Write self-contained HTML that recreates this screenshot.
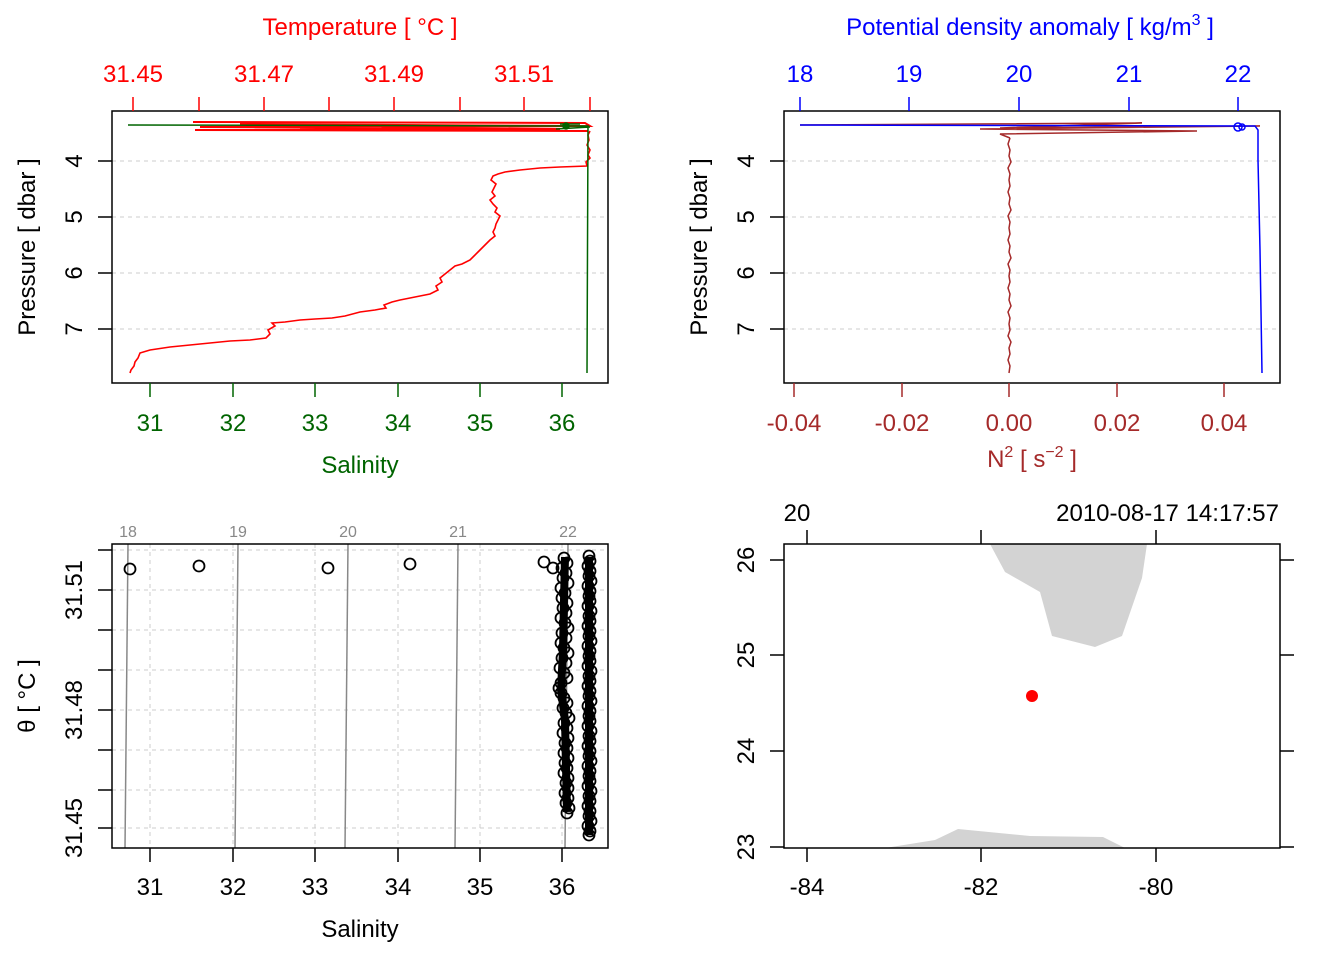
<!DOCTYPE html>
<html><head><meta charset="utf-8"><style>
html,body{margin:0;padding:0;background:#fff}
svg{display:block}
text{font-family:"Liberation Sans",sans-serif}
</style></head><body>
<svg width="1344" height="960" viewBox="0 0 1344 960" xmlns="http://www.w3.org/2000/svg">
<rect width="1344" height="960" fill="#fff"/>
<g stroke="#ccc" stroke-dasharray="4,4" stroke-width="1">
<line x1="112" y1="161" x2="608" y2="161"/><line x1="112" y1="217" x2="608" y2="217"/><line x1="112" y1="273" x2="608" y2="273"/><line x1="112" y1="329" x2="608" y2="329"/>
<line x1="784" y1="161" x2="1280" y2="161"/><line x1="784" y1="217" x2="1280" y2="217"/><line x1="784" y1="273" x2="1280" y2="273"/><line x1="784" y1="329" x2="1280" y2="329"/>
</g>
<g fill="none" stroke="#f00" stroke-width="2">
<path d="M193,122 L585,123 L590,126 L200,127 L560,129 L195,130 L588,131 M240,124 L580,126 L300,128 L540,130"/>
<path stroke-width="1.6" d="M590,131 L588,135 L589,140 L587,145 L590,150 L588,155 L590,158 L586,162 L587,166 L560,167 L540,168 L520,170 L505,172 L498,174 L493,176 L491,180 L496,184 L494,188 L492,192 L495,196 L490,200 L493,204 L497,208 L495,212 L500,216 L498,220 L496,224 L495,228 L493,232 L495,236 L490,240 L486,244 L482,248 L478,252 L474,256 L470,260 L462,264 L455,266 L450,270 L445,274 L440,278 L442,282 L436,286 L438,290 L430,294 L420,296 L410,298 L400,300 L392,302 L384,305 L386,308 L375,310 L360,312 L345,316 L332,318 L315,319 L300,320 L285,322 L272,323 L275,326 L268,330 L270,334 L266,338 L250,340 L230,341 L210,343 L190,345 L170,347 L150,350 L140,353 L138,358 L135,362 L134,366 L131,370 L130,373"/>
</g>
<g fill="none" stroke="#006400" stroke-width="1.5">
<path d="M128,125 L588,126 L587,373 M560,124 L580,124 M556,129 L590,127"/>
<circle cx="566" cy="126" r="3" fill="#006400"/>
</g>
<rect x="112" y="111" width="496" height="272" fill="none" stroke="#000" stroke-width="1.5"/>
<g stroke="#f00" stroke-width="1.5">
<line x1="133" y1="111" x2="133" y2="97"/><line x1="199" y1="111" x2="199" y2="97"/><line x1="264" y1="111" x2="264" y2="97"/><line x1="329" y1="111" x2="329" y2="97"/><line x1="394" y1="111" x2="394" y2="97"/><line x1="460" y1="111" x2="460" y2="97"/><line x1="524" y1="111" x2="524" y2="97"/><line x1="590" y1="111" x2="590" y2="97"/>
</g>
<g fill="#f00" font-size="24" text-anchor="middle">
<text x="133" y="82">31.45</text><text x="264" y="82">31.47</text><text x="394" y="82">31.49</text><text x="524" y="82">31.51</text>
<text x="360" y="35">Temperature [ °C ]</text>
</g>
<g stroke="#006400" stroke-width="1.5">
<line x1="150" y1="383" x2="150" y2="397"/><line x1="233" y1="383" x2="233" y2="397"/><line x1="315" y1="383" x2="315" y2="397"/><line x1="398" y1="383" x2="398" y2="397"/><line x1="480" y1="383" x2="480" y2="397"/><line x1="562" y1="383" x2="562" y2="397"/>
</g>
<g fill="#006400" font-size="24" text-anchor="middle">
<text x="150" y="431">31</text><text x="233" y="431">32</text><text x="315" y="431">33</text><text x="398" y="431">34</text><text x="480" y="431">35</text><text x="562" y="431">36</text>
<text x="360" y="473">Salinity</text>
</g>
<g stroke="#000" stroke-width="1.5">
<line x1="112" y1="161" x2="98" y2="161"/><line x1="112" y1="217" x2="98" y2="217"/><line x1="112" y1="273" x2="98" y2="273"/><line x1="112" y1="329" x2="98" y2="329"/>
<line x1="784" y1="161" x2="770" y2="161"/><line x1="784" y1="217" x2="770" y2="217"/><line x1="784" y1="273" x2="770" y2="273"/><line x1="784" y1="329" x2="770" y2="329"/>
</g>
<g font-size="24" text-anchor="middle">
<text transform="translate(82,161) rotate(-90)">4</text><text transform="translate(82,217) rotate(-90)">5</text><text transform="translate(82,273) rotate(-90)">6</text><text transform="translate(82,329) rotate(-90)">7</text>
<text transform="translate(35,247) rotate(-90)">Pressure [ dbar ]</text>
<text transform="translate(754,161) rotate(-90)">4</text><text transform="translate(754,217) rotate(-90)">5</text><text transform="translate(754,273) rotate(-90)">6</text><text transform="translate(754,329) rotate(-90)">7</text>
<text transform="translate(707,247) rotate(-90)">Pressure [ dbar ]</text>
</g>
<g fill="none" stroke="#a52a2a" stroke-width="1.5">
<path d="M800,125 L1142,123 L1000,128 L1260,126 L980,129 L1197,131 L1000,134 L1010,138"/>
<path d="M1010,138 L1008,144 L1010,150 L1009,156 L1011,162 L1008,168 L1010,174 L1009,180 L1010,186 L1008,192 L1010,198 L1009,204 L1011,210 L1008,216 L1010,222 L1009,228 L1010,234 L1008,240 L1010,246 L1009,252 L1011,258 L1008,264 L1010,270 L1009,276 L1010,282 L1008,288 L1010,294 L1009,300 L1011,306 L1008,312 L1010,318 L1009,324 L1010,330 L1008,336 L1011,342 L1009,348 L1010,354 L1008,360 L1010,366 L1009,373"/>
</g>
<g fill="none" stroke="#00f" stroke-width="1.5">
<path d="M800,125 L1255,126 L1258,130 L1258,160 L1260,250 L1262,373"/>
<circle cx="1238" cy="127" r="4"/><circle cx="1242" cy="127" r="3"/>
</g>
<rect x="784" y="111" width="496" height="272" fill="none" stroke="#000" stroke-width="1.5"/>
<g stroke="#00f" stroke-width="1.5">
<line x1="800" y1="111" x2="800" y2="97"/><line x1="909" y1="111" x2="909" y2="97"/><line x1="1019" y1="111" x2="1019" y2="97"/><line x1="1129" y1="111" x2="1129" y2="97"/><line x1="1238" y1="111" x2="1238" y2="97"/>
</g>
<g fill="#00f" font-size="24" text-anchor="middle">
<text x="800" y="82">18</text><text x="909" y="82">19</text><text x="1019" y="82">20</text><text x="1129" y="82">21</text><text x="1238" y="82">22</text>
<text x="1030" y="35">Potential density anomaly [ kg/m<tspan font-size="16" dy="-10">3</tspan><tspan dy="10"> ]</tspan></text>
</g>
<g stroke="#a52a2a" stroke-width="1.5">
<line x1="794" y1="383" x2="794" y2="397"/><line x1="902" y1="383" x2="902" y2="397"/><line x1="1009" y1="383" x2="1009" y2="397"/><line x1="1117" y1="383" x2="1117" y2="397"/><line x1="1224" y1="383" x2="1224" y2="397"/>
</g>
<g fill="#a52a2a" font-size="24" text-anchor="middle">
<text x="794" y="431">-0.04</text><text x="902" y="431">-0.02</text><text x="1009" y="431">0.00</text><text x="1117" y="431">0.02</text><text x="1224" y="431">0.04</text>
<text x="1032" y="467">N<tspan font-size="16" dy="-10">2</tspan><tspan dy="10"> [ s</tspan><tspan font-size="16" dy="-10">−2</tspan><tspan dy="10"> ]</tspan></text>
</g>
<g stroke="#ccc" stroke-dasharray="4,4" stroke-width="1">
<line x1="112" y1="550" x2="608" y2="550"/><line x1="112" y1="590" x2="608" y2="590"/><line x1="112" y1="630" x2="608" y2="630"/><line x1="112" y1="670" x2="608" y2="670"/><line x1="112" y1="710" x2="608" y2="710"/><line x1="112" y1="750" x2="608" y2="750"/><line x1="112" y1="790" x2="608" y2="790"/><line x1="112" y1="828" x2="608" y2="828"/>
<line x1="150" y1="544" x2="150" y2="848"/><line x1="233" y1="544" x2="233" y2="848"/><line x1="315" y1="544" x2="315" y2="848"/><line x1="398" y1="544" x2="398" y2="848"/><line x1="480" y1="544" x2="480" y2="848"/><line x1="562" y1="544" x2="562" y2="848"/>
</g>
<g stroke="#888" stroke-width="1.5">
<line x1="128" y1="544" x2="125" y2="848"/><line x1="238" y1="544" x2="235" y2="848"/><line x1="348" y1="544" x2="345" y2="848"/><line x1="458" y1="544" x2="455" y2="848"/><line x1="568" y1="544" x2="565" y2="848"/>
</g>
<g fill="#888" font-size="16" text-anchor="middle">
<text x="128" y="537">18</text><text x="238" y="537">19</text><text x="348" y="537">20</text><text x="458" y="537">21</text><text x="568" y="537">22</text>
</g>
<g fill="none" stroke="#000" stroke-width="8">
<path d="M565,557 L564,600 L563,650 L561,690 L565,720 L567,812"/>
<path d="M589,557 L589,835"/>
</g>
<g fill="none" stroke="#000" stroke-width="1.8">
<circle cx="130" cy="569" r="5.5"/><circle cx="199" cy="566" r="5.5"/><circle cx="328" cy="568" r="5.5"/><circle cx="410" cy="564" r="5.5"/><circle cx="544" cy="562" r="5.5"/><circle cx="553" cy="568" r="5.5"/>
<circle cx="564" cy="558" r="5.5"/><circle cx="567" cy="563" r="5.5"/><circle cx="562" cy="568" r="5.5"/><circle cx="566" cy="573" r="5.5"/><circle cx="563" cy="578" r="5.5"/><circle cx="568" cy="583" r="5.5"/><circle cx="561" cy="588" r="5.5"/><circle cx="565" cy="593" r="5.5"/><circle cx="562" cy="598" r="5.5"/><circle cx="567" cy="603" r="5.5"/><circle cx="563" cy="608" r="5.5"/><circle cx="566" cy="613" r="5.5"/><circle cx="561" cy="618" r="5.5"/><circle cx="565" cy="623" r="5.5"/><circle cx="568" cy="628" r="5.5"/><circle cx="562" cy="633" r="5.5"/><circle cx="566" cy="638" r="5.5"/><circle cx="561" cy="643" r="5.5"/><circle cx="564" cy="648" r="5.5"/><circle cx="568" cy="653" r="5.5"/><circle cx="562" cy="658" r="5.5"/><circle cx="566" cy="663" r="5.5"/><circle cx="560" cy="668" r="5.5"/><circle cx="564" cy="673" r="5.5"/><circle cx="567" cy="678" r="5.5"/><circle cx="561" cy="683" r="5.5"/><circle cx="559" cy="688" r="5.5"/><circle cx="561" cy="693" r="5.5"/><circle cx="564" cy="698" r="5.5"/><circle cx="567" cy="703" r="5.5"/><circle cx="563" cy="708" r="5.5"/><circle cx="566" cy="713" r="5.5"/><circle cx="569" cy="718" r="5.5"/><circle cx="564" cy="723" r="5.5"/><circle cx="567" cy="728" r="5.5"/><circle cx="563" cy="733" r="5.5"/><circle cx="568" cy="738" r="5.5"/><circle cx="565" cy="743" r="5.5"/><circle cx="567" cy="748" r="5.5"/><circle cx="564" cy="753" r="5.5"/><circle cx="568" cy="758" r="5.5"/><circle cx="565" cy="763" r="5.5"/><circle cx="567" cy="768" r="5.5"/><circle cx="564" cy="773" r="5.5"/><circle cx="568" cy="778" r="5.5"/><circle cx="566" cy="783" r="5.5"/><circle cx="568" cy="788" r="5.5"/><circle cx="565" cy="793" r="5.5"/><circle cx="568" cy="798" r="5.5"/><circle cx="566" cy="803" r="5.5"/><circle cx="569" cy="808" r="5.5"/><circle cx="567" cy="813" r="5.5"/>
<circle cx="589" cy="556" r="5.5"/><circle cx="590" cy="561" r="5.5"/><circle cx="588" cy="566" r="5.5"/><circle cx="590" cy="571" r="5.5"/><circle cx="589" cy="576" r="5.5"/><circle cx="591" cy="581" r="5.5"/><circle cx="588" cy="586" r="5.5"/><circle cx="590" cy="591" r="5.5"/><circle cx="589" cy="596" r="5.5"/><circle cx="590" cy="601" r="5.5"/><circle cx="588" cy="606" r="5.5"/><circle cx="591" cy="611" r="5.5"/><circle cx="589" cy="616" r="5.5"/><circle cx="590" cy="621" r="5.5"/><circle cx="588" cy="626" r="5.5"/><circle cx="590" cy="631" r="5.5"/><circle cx="589" cy="636" r="5.5"/><circle cx="591" cy="641" r="5.5"/><circle cx="588" cy="646" r="5.5"/><circle cx="590" cy="651" r="5.5"/><circle cx="589" cy="656" r="5.5"/><circle cx="590" cy="661" r="5.5"/><circle cx="588" cy="666" r="5.5"/><circle cx="591" cy="671" r="5.5"/><circle cx="589" cy="676" r="5.5"/><circle cx="590" cy="681" r="5.5"/><circle cx="588" cy="686" r="5.5"/><circle cx="590" cy="691" r="5.5"/><circle cx="589" cy="696" r="5.5"/><circle cx="591" cy="701" r="5.5"/><circle cx="588" cy="706" r="5.5"/><circle cx="590" cy="711" r="5.5"/><circle cx="589" cy="716" r="5.5"/><circle cx="590" cy="721" r="5.5"/><circle cx="588" cy="726" r="5.5"/><circle cx="591" cy="731" r="5.5"/><circle cx="589" cy="736" r="5.5"/><circle cx="590" cy="741" r="5.5"/><circle cx="588" cy="746" r="5.5"/><circle cx="590" cy="751" r="5.5"/><circle cx="589" cy="756" r="5.5"/><circle cx="591" cy="761" r="5.5"/><circle cx="588" cy="766" r="5.5"/><circle cx="590" cy="771" r="5.5"/><circle cx="589" cy="776" r="5.5"/><circle cx="590" cy="781" r="5.5"/><circle cx="588" cy="786" r="5.5"/><circle cx="591" cy="791" r="5.5"/><circle cx="589" cy="796" r="5.5"/><circle cx="590" cy="801" r="5.5"/><circle cx="588" cy="806" r="5.5"/><circle cx="590" cy="811" r="5.5"/><circle cx="589" cy="816" r="5.5"/><circle cx="591" cy="821" r="5.5"/><circle cx="588" cy="826" r="5.5"/><circle cx="590" cy="831" r="5.5"/><circle cx="589" cy="835" r="5.5"/>
</g>
<rect x="112" y="544" width="496" height="304" fill="none" stroke="#000" stroke-width="1.5"/>
<g stroke="#000" stroke-width="1.5">
<line x1="150" y1="848" x2="150" y2="862"/><line x1="233" y1="848" x2="233" y2="862"/><line x1="315" y1="848" x2="315" y2="862"/><line x1="398" y1="848" x2="398" y2="862"/><line x1="480" y1="848" x2="480" y2="862"/><line x1="562" y1="848" x2="562" y2="862"/>
<line x1="112" y1="550" x2="98" y2="550"/><line x1="112" y1="590" x2="98" y2="590"/><line x1="112" y1="630" x2="98" y2="630"/><line x1="112" y1="670" x2="98" y2="670"/><line x1="112" y1="710" x2="98" y2="710"/><line x1="112" y1="750" x2="98" y2="750"/><line x1="112" y1="790" x2="98" y2="790"/><line x1="112" y1="828" x2="98" y2="828"/>
</g>
<g font-size="24" text-anchor="middle">
<text x="150" y="895">31</text><text x="233" y="895">32</text><text x="315" y="895">33</text><text x="398" y="895">34</text><text x="480" y="895">35</text><text x="562" y="895">36</text>
<text x="360" y="937">Salinity</text>
<text transform="translate(82,590) rotate(-90)">31.51</text><text transform="translate(82,710) rotate(-90)">31.48</text><text transform="translate(82,828) rotate(-90)">31.45</text>
<text transform="translate(35,696) rotate(-90)">θ [ °C ]</text>
</g>
<polygon points="990,544 1005,572 1040,592 1052,636 1095,647 1122,636 1142,578 1147,544" fill="#d3d3d3"/>
<polygon points="885,848 935,840 958,829 1030,836 1103,837 1125,848" fill="#d3d3d3"/>
<circle cx="1032" cy="696" r="6" fill="#f00"/>
<rect x="784" y="544" width="496" height="304" fill="none" stroke="#000" stroke-width="1.5"/>
<g stroke="#000" stroke-width="1.5">
<line x1="807" y1="848" x2="807" y2="862"/><line x1="981" y1="848" x2="981" y2="862"/><line x1="1156" y1="848" x2="1156" y2="862"/>
<line x1="807" y1="544" x2="807" y2="530"/><line x1="981" y1="544" x2="981" y2="530"/><line x1="1156" y1="544" x2="1156" y2="530"/>
<line x1="784" y1="560" x2="770" y2="560"/><line x1="784" y1="655" x2="770" y2="655"/><line x1="784" y1="751" x2="770" y2="751"/><line x1="784" y1="847" x2="770" y2="847"/>
<line x1="1280" y1="560" x2="1294" y2="560"/><line x1="1280" y1="655" x2="1294" y2="655"/><line x1="1280" y1="751" x2="1294" y2="751"/><line x1="1280" y1="847" x2="1294" y2="847"/>
</g>
<g font-size="24" text-anchor="middle">
<text x="807" y="895">-84</text><text x="981" y="895">-82</text><text x="1156" y="895">-80</text>
<text x="797" y="521">20</text><text x="1279" y="521" text-anchor="end">2010-08-17 14:17:57</text>
<text transform="translate(754,560) rotate(-90)">26</text><text transform="translate(754,655) rotate(-90)">25</text><text transform="translate(754,751) rotate(-90)">24</text><text transform="translate(754,847) rotate(-90)">23</text>
</g>
</svg>
</body></html>
